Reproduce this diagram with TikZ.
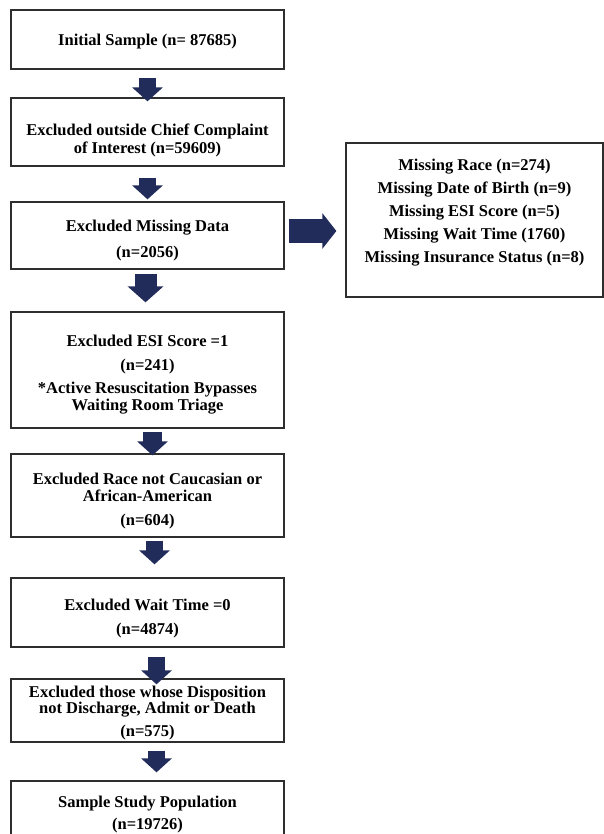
\documentclass[tikz,border=0pt]{standalone}
\usepackage{fontspec}
\setmainfont{Liberation Serif}
\usetikzlibrary{arrows.meta}

\definecolor{arrowblue}{HTML}{212C5B}
\definecolor{boxline}{HTML}{2E2E2E}

% strut that pushes the first line of a box down
\newcommand{\toppad}[1]{\rule{0pt}{#1}}

\tikzset{
	stepbox/.style={draw=boxline, line width=1.3pt, minimum width=273pt, align=center, inner sep=2pt, font=\bfseries\fontsize{16.5}{17}\selectfont},
	infobox/.style={draw=boxline, line width=1.3pt, minimum width=257pt, minimum height=154pt},
	flowarrow/.style={draw=arrowblue, line width=17pt, -{Triangle[length=14pt, width=30pt]}}
}

\begin{document}
\begin{tikzpicture}[x=1pt, y=-1pt]
	\useasboundingbox (0,0) rectangle (604,834);
	
	\node[stepbox, minimum height=59pt] (initial) at (147.5,39.5) {\toppad{15.5pt}Initial Sample (n= 87685)};
	
	\node[stepbox, minimum height=68pt] (complaint) at (147.5,132) {\toppad{29.5pt}Excluded outside Chief Complaint\\[1pt]of Interest (n=59609)};
	
	\node[stepbox, minimum height=67pt] (missing) at (147.5,235.5) {\toppad{22pt}Excluded Missing Data\\[9pt](n=2056)};
	
	\node[stepbox, minimum height=116pt] (esi) at (147.5,370) {\toppad{20pt}Excluded ESI Score =1\\[7pt](n=241)\\[6pt]*Active Resuscitation Bypasses\\Waiting Room Triage};
	
	\node[stepbox, minimum height=83pt] (race) at (147.5,495.5) {\toppad{22pt}Excluded Race not Caucasian or\\African-American\\[7pt](n=604)};
	
	\node[stepbox, minimum height=69pt] (wait) at (147.5,612.5) {\toppad{23pt}Excluded Wait Time =0\\[7pt](n=4874)};
	
	\node[stepbox, inner ysep=0pt, minimum height=63pt] (dispo) at (147.5,710.5) {\toppad{16.5pt}Excluded those whose Disposition\\[-1pt]not Discharge, Admit or Death\\[6pt](n=575)};
	
	\node[stepbox, minimum height=62pt] (study) at (147.5,812) {\toppad{15.5pt}Sample Study Population\\[5pt](n=19726)};
	
	% missing data details
	\node[infobox] (details) at (474.5,220) {};
	
	\node[align=center, font=\bfseries\fontsize{16.5}{23.2}\selectfont] (detailtext) at ([yshift=7.5pt]details.center) {Missing Race (n=274)\\Missing Date of Birth (n=9)\\Missing ESI Score (n=5)\\Missing Wait Time (1760)\\Missing Insurance Status (n=8)};
	
	% arrows
	\draw[flowarrow] ([yshift=-8pt]initial.south) -- ([yshift=-4pt]complaint.north);
	
	\draw[flowarrow] ([yshift=-11pt]complaint.south) -- ([yshift=2pt]missing.north);
	
	\draw[flowarrow, line width=22pt, -{Triangle[length=16pt, width=35pt]}] ([xshift=-2pt, yshift=-4pt]missing.south) -- ([xshift=-2pt, yshift=9pt]esi.north);
	
	\draw[flowarrow, line width=19pt] ([xshift=5pt, yshift=-3pt]esi.south) -- ([xshift=5pt, yshift=-2pt]race.north);
	
	\draw[flowarrow] ([xshift=7pt, yshift=-3pt]race.south) -- ([xshift=7pt, yshift=13pt]wait.north);
	
	\draw[flowarrow] ([xshift=9pt, yshift=-9pt]wait.south) -- ([xshift=9pt, yshift=-6pt]dispo.north);
	
	\draw[flowarrow] ([xshift=9pt, yshift=-8pt]dispo.south) -- ([xshift=9pt, yshift=8pt]study.north);
	
	\draw[flowarrow, line width=23pt, -{Triangle[length=14pt, width=35pt]}] ([xshift=4pt, yshift=4.5pt]missing.east) -- ([xshift=-9pt, yshift=-11pt]details.west);
	
\end{tikzpicture}
\end{document}
